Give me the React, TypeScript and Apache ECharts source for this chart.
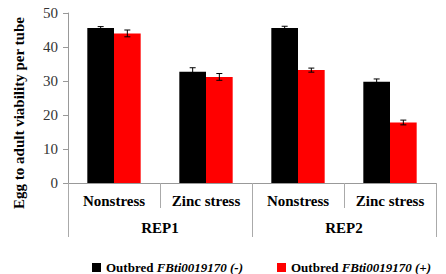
import React, { useEffect, useRef } from "react";
import * as echarts from "echarts";

const conditions = ["Nonstress", "Zinc stress", "Nonstress", "Zinc stress"];
const replicates = ["REP1", "REP2"];
const minusValues = [45.6, 32.7, 45.6, 29.8];
const minusErrors = [0.4, 1.2, 0.5, 0.8];
const plusValues = [44.0, 31.2, 33.2, 17.8];
const plusErrors = [1.0, 1.0, 0.6, 0.7];
const yTicks = { min: 0, max: 50, interval: 10 };

const FONT = "Liberation Serif, Times New Roman, serif";
const BAR_RATIO = 0.29;

function errorSeries(values: number[], errors: number[], side: number) {
  return {
    type: "custom",
    xAxisIndex: 0,
    yAxisIndex: 0,
    z: 10,
    silent: true,
    data: values.map((v, i) => [i, v, errors[i]]),
    renderItem: (params: any, api: any) => {
      const idx = api.value(0);
      const v = api.value(1);
      const e = api.value(2);
      const band = api.size([1, 0])[0];
      const off = side * band * BAR_RATIO / 2;
      const hi = api.coord([idx, v + e]);
      const lo = api.coord([idx, v - e]);
      const x = hi[0] + off;
      const cap = 3;
      const style = { stroke: "#000", lineWidth: 1 };
      return {
        type: "group",
        children: [
          { type: "line", shape: { x1: x, y1: hi[1], x2: x, y2: lo[1] }, style },
          { type: "line", shape: { x1: x - cap, y1: hi[1], x2: x + cap, y2: hi[1] }, style },
          { type: "line", shape: { x1: x - cap, y1: lo[1], x2: x + cap, y2: lo[1] }, style },
        ],
      };
    },
  };
}

export default function App() {
  const ref = useRef<HTMLDivElement>(null);
  useEffect(() => {
    if (!ref.current) return;
    const chart = echarts.init(ref.current, undefined, { renderer: "svg" });
    const legendRich = {
      n: { fontFamily: FONT, fontWeight: "bold", fontSize: 13, color: "#000", lineHeight: 14 },
      i: { fontFamily: FONT, fontWeight: "bold", fontStyle: "italic", fontSize: 13, color: "#000", lineHeight: 14 },
    };
    chart.setOption({
      animation: false,
      backgroundColor: "#fff",
      textStyle: { fontFamily: FONT },
      grid: { left: 68, right: 10, top: 13, bottom: 91, containLabel: false },
      legend: {
        left: 92,
        top: 261,
        padding: 0,
        itemWidth: 9,
        itemHeight: 9,
        itemGap: 34,
        icon: "rect",
        data: ["minus", "plus"],
        formatter: (name: string) =>
          name === "minus"
            ? "{n|Outbred }{i|FBti0019170 (-)}"
            : "{n|Outbred }{i|FBti0019170 (+)}",
        textStyle: { fontFamily: FONT, fontSize: 13, rich: legendRich },
      },
      xAxis: [
        {
          type: "category",
          data: conditions,
          position: "bottom",
          axisLine: { show: true, lineStyle: { color: "#999", width: 1 } },
          axisTick: { show: true, interval: 0, length: 25, lineStyle: { color: "#aaa" } },
          axisLabel: {
            interval: 0,
            margin: 10,
            fontFamily: FONT,
            fontWeight: "bold",
            fontSize: 15,
            color: "#000",
          },
        },
        {
          type: "category",
          data: replicates,
          position: "bottom",
          axisLine: { show: false },
          axisTick: { show: true, interval: 0, length: 54, lineStyle: { color: "#aaa" } },
          axisLabel: {
            interval: 0,
            margin: 37,
            fontFamily: FONT,
            fontWeight: "bold",
            fontSize: 15,
            color: "#000",
          },
        },
      ],
      yAxis: {
        type: "value",
        min: yTicks.min,
        max: yTicks.max,
        interval: yTicks.interval,
        axisLine: { show: true, lineStyle: { color: "#999" } },
        axisTick: { show: true, length: 5, lineStyle: { color: "#999" } },
        splitLine: { show: false },
        axisLabel: { fontFamily: FONT, fontSize: 15, color: "#333", margin: 10 },
      },
      graphic: [
        {
          type: "text",
          x: 19,
          y: 113,
          rotation: Math.PI / 2,
          style: {
            text: "Egg to adult viability per tube",
            fontFamily: FONT,
            fontWeight: "bold",
            fontSize: 15,
            fill: "#000",
            align: "center",
            verticalAlign: "middle",
          },
        },
      ],
      series: [
        {
          name: "minus",
          type: "bar",
          data: minusValues,
          barWidth: `${BAR_RATIO * 100}%`,
          barGap: "0%",
          itemStyle: { color: "#000" },
        },
        {
          name: "plus",
          type: "bar",
          data: plusValues,
          barWidth: `${BAR_RATIO * 100}%`,
          barGap: "0%",
          itemStyle: { color: "#ff0000" },
        },
        errorSeries(minusValues, minusErrors, -1),
        errorSeries(plusValues, plusErrors, 1),
      ],
    });
    return () => chart.dispose();
  }, []);
  return <div ref={ref} style={{ width: 446, height: 274, position: "absolute", left: 0, top: 0 }} />;
}
